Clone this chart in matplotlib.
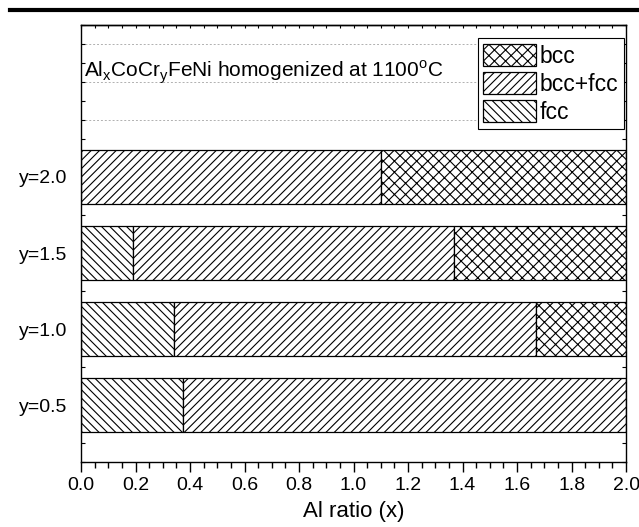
import numpy as np
import matplotlib.pyplot as plt
from matplotlib.patches import Patch
from matplotlib.ticker import MultipleLocator

plt.rcParams['font.family'] = ['Liberation Sans', 'DejaVu Sans']
plt.rcParams['hatch.linewidth'] = 0.8

# Cr ratio rows and phase boundaries along the Al ratio
y_vals = [0.5, 1.0, 1.5, 2.0]
y_labels = ['y=0.5', 'y=1.0', 'y=1.5', 'y=2.0']
fcc_end = [0.375, 0.34, 0.19, 0.0]
bcc_start = [2.0, 1.67, 1.37, 1.1]
x_max = 2.0

phases = ['bcc', 'bcc+fcc', 'fcc']
hatches = {'bcc': 'xxx', 'bcc+fcc': '////', 'fcc': '\\\\\\\\'}

fig = plt.figure(figsize=(6.39, 5.27), dpi=100)
ax = fig.add_axes([0.1268, 0.1233, 0.853, 0.8293])

# horizontal dotted grid at odd multiples of 0.125
for g in np.arange(0.375, 3.0, 0.25):
    ax.axhline(g, color='#b0b0b0', lw=0.7, ls=(0, (2, 2)), zorder=0)

h = 0.35
for y, f, b in zip(y_vals, fcc_end, bcc_start):
    segs = [(0.0, f, 'fcc'), (f, b, 'bcc+fcc'), (b, x_max, 'bcc')]
    for left, right, ph in segs:
        if right - left <= 0:
            continue
        ax.barh(y, right - left, left=left, height=h, color='white',
                edgecolor='black', hatch=hatches[ph], linewidth=0.9, zorder=2)

ax.set_xlim(0, 2.0)
ax.set_ylim(0.125, 3.0)
ax.xaxis.set_major_locator(MultipleLocator(0.2))
ax.xaxis.set_minor_locator(MultipleLocator(0.05))
ax.set_yticks(y_vals)
ax.set_yticklabels(y_labels)
ax.yaxis.set_minor_locator(MultipleLocator(0.125))
ax.tick_params(axis='x', which='major', direction='out', length=7, width=1,
               labelsize=14)
ax.tick_params(axis='x', which='minor', direction='out', length=4, width=1)
ax.tick_params(axis='y', which='both', direction='in', length=3, width=0.8,
               labelsize=14, right=True, pad=10)
ax.tick_params(axis='y', which='major', length=0)

# small inward ticks along the top edge
top = ax.secondary_xaxis('top')
top.xaxis.set_major_locator(MultipleLocator(0.2))
top.xaxis.set_minor_locator(MultipleLocator(0.05))
top.tick_params(which='both', direction='in', length=2.5, width=0.8,
                labeltop=False)
top.spines['top'].set_linewidth(1.0)
for s in ax.spines.values():
    s.set_linewidth(1.0)

ax.set_xlabel('Al ratio (x)', fontsize=16, labelpad=5)

ax.text(0.01, 2.69, r'Al$_{\mathregular{x}}$CoCr$_{\mathregular{y}}$FeNi homogenized at 1100$^{\mathregular{o}}$C',
        fontsize=15, va='center', ha='left', zorder=3)

handles = [Patch(facecolor='white', edgecolor='black', hatch=hatches[p], linewidth=0.9)
           for p in phases]
leg = ax.legend(handles, phases, loc='upper right', bbox_to_anchor=(1.0, 0.975),
                fontsize=16.5, frameon=True, fancybox=False, framealpha=1,
                edgecolor='black', handlelength=2.3, handleheight=1.1,
                labelspacing=0.18, handletextpad=0.15, borderpad=0.25,
                borderaxespad=0.1)
leg.get_frame().set_linewidth(0.8)
leg.set_zorder(5)

# separator line at the top of the page
fig.add_artist(plt.Line2D([10 / 639, 1.0], [1 - 10 / 527, 1 - 10 / 527],
                          color='black', lw=3))

fig.savefig('out.png', dpi=100)
